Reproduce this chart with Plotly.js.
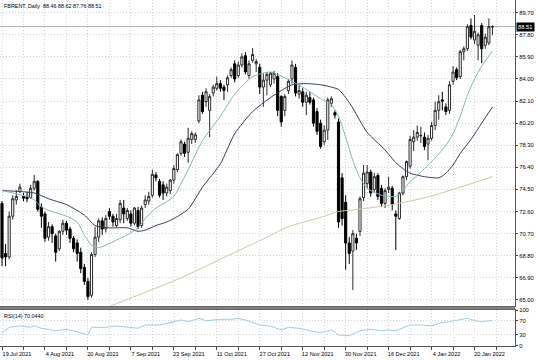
<!DOCTYPE html>
<html><head><meta charset="utf-8">
<script src="https://cdn.plot.ly/plotly-3.0.1.min.js"></script>
<style>html,body{margin:0;padding:0;background:#fff}#chart{width:536px;height:360px}</style>
</head><body><div id="chart"></div>
<script>
const dates = ["2021-07-19","2021-07-20","2021-07-21","2021-07-22","2021-07-23","2021-07-26","2021-07-27","2021-07-28","2021-07-29","2021-07-30",
"2021-08-02","2021-08-03","2021-08-04","2021-08-05","2021-08-06","2021-08-09","2021-08-10","2021-08-11","2021-08-12","2021-08-13","2021-08-16","2021-08-17","2021-08-18","2021-08-19","2021-08-20","2021-08-23","2021-08-24","2021-08-25","2021-08-26","2021-08-27","2021-08-30","2021-08-31",
"2021-09-01","2021-09-02","2021-09-03","2021-09-06","2021-09-07","2021-09-08","2021-09-09","2021-09-10","2021-09-13","2021-09-14","2021-09-15","2021-09-16","2021-09-17","2021-09-20","2021-09-21","2021-09-22","2021-09-23","2021-09-24","2021-09-27","2021-09-28","2021-09-29","2021-09-30",
"2021-10-01","2021-10-04","2021-10-05","2021-10-06","2021-10-07","2021-10-08","2021-10-11","2021-10-12","2021-10-13","2021-10-14","2021-10-15","2021-10-18","2021-10-19","2021-10-20","2021-10-21","2021-10-22","2021-10-25","2021-10-26","2021-10-27","2021-10-28","2021-10-29",
"2021-11-01","2021-11-02","2021-11-03","2021-11-04","2021-11-05","2021-11-08","2021-11-09","2021-11-10","2021-11-11","2021-11-12","2021-11-15","2021-11-16","2021-11-17","2021-11-18","2021-11-19","2021-11-22","2021-11-23","2021-11-24","2021-11-25","2021-11-26","2021-11-29","2021-11-30",
"2021-12-01","2021-12-02","2021-12-03","2021-12-06","2021-12-07","2021-12-08","2021-12-09","2021-12-10","2021-12-13","2021-12-14","2021-12-15","2021-12-16","2021-12-17","2021-12-20","2021-12-21","2021-12-22","2021-12-23","2021-12-27","2021-12-28","2021-12-29","2021-12-30","2021-12-31",
"2022-01-03","2022-01-04","2022-01-05","2022-01-06","2022-01-07","2022-01-10","2022-01-11","2022-01-12","2022-01-13","2022-01-14","2022-01-17","2022-01-18","2022-01-19","2022-01-20","2022-01-21","2022-01-24","2022-01-25","2022-01-26","2022-01-27"];

const open  = [73.3,69.0,68.7,72.2,73.6,74.3,73.9,73.9,73.8,74.6, 75.2,73.0,72.4,70.4,71.3,70.5,69.4,70.9,71.6,71.1, 70.3,69.9,69.1,67.8,66.6,65.4,68.9,70.4,71.8,71.1, 72.6,72.2,71.4,71.9,72.9,72.0,72.4,71.6,72.7,71.4, 73.2,73.5,74.0,75.75,75.2,74.9,74.2,74.4,75.3,76.2, 77.6,78.4,77.7,78.8,78.8,80.4,82.6,82.05,81.3,82.8, 83.2,83.6,83.3,83.5,84.3,85.3,84.3,85.2,86.0,84.3, 85.6,85.3,85.0,83.3,83.9,83.5,84.0,84.2,82.5,81.3, 83.0,84.0,85.0,82.7,82.9,82.0,82.4,82.2,81.2,80.2, 78.6,79.6,81.9,81.1,80.3,75.5,73.4,69.9,69.2,70.3, 70.9,73.8,75.0,76.0,74.5,75.7,74.6,73.3,74.5,74.6, 72.4,72.0,74.2,75.6,76.5,78.6,79.0,79.1,79.0,78.4, 78.9,80.0,81.3,82.2,81.6,81.3,83.8,84.8,84.2,86.35, 86.6,88.6,87.35,86.9,88.6,86.9,87.1,88.46];
const high  = [73.5,69.8,72.6,74.0,74.45,75.0,74.2,74.3,74.9,75.75, 75.3,73.3,72.6,71.7,71.5,70.7,71.0,71.9,71.8,71.3, 70.5,70.2,69.5,68.1,66.9,69.1,71.3,72.0,72.1,72.3, 72.9,72.4,72.4,73.6,73.6,72.9,72.7,73.0,73.0,73.1, 74.0,74.3,76.2,76.0,75.4,75.2,75.0,75.4,76.6,77.6, 78.8,78.6,79.8,79.5,79.4,82.6,82.9,83.2,82.7,83.5, 84.2,83.9,83.5,84.3,85.0,85.6,85.5,86.2,86.3,85.6, 86.66,85.7,85.3,84.5,84.6,84.6,84.7,84.5,82.6,82.7, 84.0,85.6,85.3,83.5,83.2,82.9,82.9,82.4,81.5,80.5, 80.0,82.4,82.5,81.3,80.6,75.9,74.0,70.4,71.0,70.7, 73.9,76.6,76.6,76.2,75.9,75.9,74.9,74.6,75.6,74.8, 72.7,74.3,75.7,77.0,79.1,79.6,80.0,79.9,79.4,79.2, 80.3,82.05,82.6,82.9,81.9,83.8,85.1,85.0,86.5,86.8, 88.7,89.2,89.5,88.0,88.8,87.9,89.2,88.62];
const low   = [67.9,67.9,68.5,71.9,73.2,74.2,73.5,73.4,73.7,74.4, 72.6,71.2,70.0,70.1,69.9,68.3,69.2,70.6,70.6,69.9, 69.1,68.3,67.3,66.3,65.0,65.2,68.7,70.0,70.6,70.8, 71.9,71.3,71.2,71.6,71.6,71.8,71.3,71.4,71.1,71.2, 72.9,73.2,73.8,75.2,73.8,73.6,73.9,74.1,75.0,76.0, 77.4,77.3,76.8,78.4,78.5,80.2,81.0,81.6,79.0,82.5, 83.0,82.9,82.2,82.9,84.1,83.7,84.1,85.0,84.4,84.0, 85.4,84.6,82.7,81.6,82.6,83.3,83.6,80.8,79.9,80.8, 82.7,83.6,82.5,82.3,81.6,80.9,81.8,79.9,79.2,78.0, 78.3,78.75,81.6,80.6,71.2,71.4,67.6,68.1,65.86,69.3, 70.5,73.5,74.6,73.9,74.2,73.6,73.0,72.9,74.2,72.7, 69.3,71.9,74.0,75.3,76.3,77.8,78.7,78.5,77.9,77.0, 78.7,79.6,80.5,81.3,80.9,81.0,83.5,83.9,84.0,85.6, 86.4,87.4,87.0,85.6,85.35,86.6,86.9,87.76];
const close = [68.6,68.7,72.2,73.7,73.9,74.7,73.75,73.7,74.6,75.2, 72.8,72.2,70.3,71.3,70.7,69.1,70.9,71.6,71.0,70.3, 69.4,69.0,67.7,66.6,65.3,68.9,70.4,71.8,71.1,72.0, 72.2,71.7,72.0,73.3,72.4,72.7,71.6,72.9,71.3,72.9, 73.6,73.9,75.8,75.5,74.0,74.2,74.7,75.3,76.3,77.5, 78.6,77.6,78.9,79.3,79.2,82.2,81.2,82.9,82.5,83.3, 83.6,83.2,83.0,84.1,84.8,84.0,85.2,85.9,84.6,85.3, 86.1,85.5,83.3,83.9,84.4,84.5,84.5,81.3,80.3,82.5, 83.8,85.2,82.8,83.0,82.0,82.6,82.0,80.2,79.5,78.2, 79.6,82.2,82.3,80.9,71.7,72.0,69.9,69.0,70.7,69.9, 73.7,75.9,76.0,74.2,75.6,73.9,73.3,74.4,74.7,73.2, 72.2,74.2,75.6,76.9,78.8,79.0,79.4,79.15,78.2,78.9, 80.0,81.3,82.05,82.1,81.2,83.5,84.6,84.1,86.35,86.6, 88.5,87.6,88.1,87.8,86.6,87.6,88.5,88.51];

// moving averages (bar index, value)
const fastMaIdx = [0,3,7,9,11,13,18,21,23,25,27,29,32,35,38,40,43,46,48,52,56,61,65,70,75,79,84,89,92,94,96,98,100,102,106,110,112,114,116,118,121,124,126,128,130,132,134,137];
const fastMaVal = [74.4,74.2,73.9,73.6,73.0,72.7,72.2,71.7,70.6,69.7,69.5,69.7,70.15,70.6,71.2,72.0,72.9,73.45,73.9,76.2,78.7,80.8,82.7,84.2,84.6,84.1,83.3,82.3,81.8,80.8,79.0,77.0,75.5,74.6,74.0,73.9,74.4,75.2,75.7,76.3,77.2,78.3,79.3,80.8,82.6,84.0,85.1,86.4];
const slowMaIdx = [0,9,13,18,23,26,30,35,38,40,43,46,48,52,56,61,65,70,75,78,81,85,89,92,94,96,98,100,102,107,110,112,114,118,122,124,126,128,131,134,137];
const slowMaVal = [74.4,74.2,73.7,73.2,72.3,71.4,71.2,71.2,70.9,71.0,71.4,71.7,72.0,72.8,74.7,76.7,79.3,81.2,82.4,83.0,83.5,83.6,83.5,83.3,83.1,82.4,81.5,80.4,79.4,77.9,76.8,76.3,75.9,75.6,75.5,75.9,76.6,77.6,78.8,80.2,81.6];
const longMaIdx = [28,50,61,72,80,89,94,100,109,119,128,137];
const longMaVal = [64.2,66.9,68.5,70.1,71.3,72.1,72.6,72.8,73.2,73.85,74.7,75.6];
const rsiIdx = [0,2,5,8,9,11,15,18,21,24,25,29,32,35,38,40,44,46,50,52,55,57,61,64,66,68,70,72,75,78,80,83,86,89,92,94,97,100,103,106,108,110,114,117,120,122,125,128,130,132,134,136,137];
const rsiVal = [34.7,51.5,55.2,51.5,56,48.7,42,45.9,39.2,30,51.5,51.5,55.2,51.5,48.7,58,58,62.6,72,67.3,76.6,70,73.8,73.8,76.6,72,64.6,58,55,44,51.5,48.7,42,36.5,44,30,28,42,46,42,44,42,58,58,55,62.6,67.3,72,76.6,70,67.3,70,70.04];

const priceTicks = [65.00,66.90,68.80,70.70,72.60,74.50,76.40,78.30,80.20,82.10,84.00,85.90,87.80,89.70];
const rsiTicks = [0,30,70,100];
const labelDates = ["2021-07-19","2021-08-04","2021-08-20","2021-09-07","2021-09-23","2021-10-11","2021-10-27","2021-11-12","2021-11-30","2021-12-16","2022-01-04","2022-01-20"];
const labelText = ["19 Jul 2021","4 Aug 2021","20 Aug 2021","7 Sep 2021","23 Sep 2021","11 Oct 2021","27 Oct 2021","12 Nov 2021","30 Nov 2021","16 Dec 2021","4 Jan 2022","20 Jan 2022"];
const titleText = "FBRENT.,Daily  88.46 88.62 87.76 88.51";
const rsiLabel = "RSI(14) 70.0440";
const lastPrice = 88.51;

const idx = dates.map((d, i) => i);
const labelIdx = labelDates.map(d => dates.indexOf(d));
const gridVals = [], gridText = [];
for (let v = 0; v <= 138; v += 6) {
  gridVals.push(v);
  const k = labelIdx.indexOf(v);
  gridText.push(k >= 0 ? labelText[k] : "");
}

const FONT = "Liberation Sans, Arial, sans-serif";
const GRID = "#d6d6d6";
const traces = [
  {type:"candlestick", x: idx, open, high, low, close, xaxis:"x", yaxis:"y",
   increasing:{line:{color:"#2a2a2a", width:1}, fillcolor:"#ffffff"},
   decreasing:{line:{color:"#000", width:1}, fillcolor:"#000000"},
   whiskerwidth:0, hoverinfo:"skip", showlegend:false},
  {type:"scatter", mode:"lines", x: longMaIdx, y: longMaVal, xaxis:"x", yaxis:"y",
   line:{color:"#d6c6a6", width:1, shape:"spline", smoothing:0.6}, hoverinfo:"skip", showlegend:false},
  {type:"scatter", mode:"lines", x: slowMaIdx, y: slowMaVal, xaxis:"x", yaxis:"y",
   line:{color:"#3a3a58", width:1, shape:"spline", smoothing:0.6}, hoverinfo:"skip", showlegend:false},
  {type:"scatter", mode:"lines", x: fastMaIdx, y: fastMaVal, xaxis:"x", yaxis:"y",
   line:{color:"#86b8b4", width:1, shape:"spline", smoothing:0.6}, hoverinfo:"skip", showlegend:false},
  {type:"scatter", mode:"lines", x: rsiIdx, y: rsiVal, xaxis:"x", yaxis:"y2",
   line:{color:"#a4cbe0", width:1}, hoverinfo:"skip", showlegend:false}
];

const layout = {
  width:536, height:360,
  margin:{l:0, r:21, t:0, b:0, pad:0},
  paper_bgcolor:"#ffffff", plot_bgcolor:"#ffffff",
  font:{family:FONT, size:6, color:"#000"},
  showlegend:false,
  boxgap:0.15,
  xaxis:{domain:[0, 1], range:[-0.56, 143.3], anchor:"y2",
    tickmode:"array", tickvals:gridVals, ticktext:gridText,
    ticks:"outside", ticklen:3, tickcolor:"#444", tickfont:{size:5.6, family:FONT},
    ticklabelshift:15, ticklabelstandoff:0,
    showgrid:true, gridcolor:GRID, griddash:"1px,2px", gridwidth:1,
    showline:true, linecolor:"#555", linewidth:1, mirror:"all",
    zeroline:false, rangeslider:{visible:false}, fixedrange:true},
  yaxis:{domain:[1-306/360, 1], range:[64.48, 90.79], side:"right", anchor:"x",
    tickmode:"array", tickvals:priceTicks, ticktext:priceTicks.map(v => v.toFixed(2)),
    ticks:"outside", ticklen:2, tickcolor:"#444", tickfont:{size:5.8, family:FONT},
    showgrid:true, gridcolor:GRID, griddash:"1px,2px", gridwidth:1,
    showline:true, linecolor:"#555", linewidth:1, mirror:true, zeroline:false, fixedrange:true},
  yaxis2:{domain:[1-345.7/360, 1-310/360], range:[0, 100], side:"right", anchor:"x",
    tickmode:"array", tickvals:rsiTicks, ticktext:rsiTicks.map(String),
    ticks:"outside", ticklen:2, tickcolor:"#444", tickfont:{size:5.8, family:FONT},
    showgrid:true, gridcolor:GRID, griddash:"1px,2px", gridwidth:1,
    showline:true, linecolor:"#555", linewidth:1, mirror:true, zeroline:false, fixedrange:true},
  shapes:[
    {type:"line", xref:"paper", yref:"y", x0:0, x1:1, y0:lastPrice, y1:lastPrice,
     line:{color:"#b4b4b4", width:1}, layer:"below"},
    {type:"line", xref:"paper", yref:"paper", x0:0, x1:1, y0:1-308/360, y1:1-308/360,
     line:{color:"#808080", width:3}}
  ],
  annotations:[
    {xref:"paper", yref:"paper", x:0.004, y:1-1/360, xanchor:"left", yanchor:"top",
     text:titleText, showarrow:false, font:{size:5.4, family:FONT, color:"#000"}},
    {xref:"paper", yref:"paper", x:0.004, y:1-310.5/360, xanchor:"left", yanchor:"top",
     text:rsiLabel, showarrow:false, font:{size:5.4, family:FONT, color:"#000"}},
    {xref:"paper", yref:"y", x:1 + 1/515, y:lastPrice, xanchor:"left", yanchor:"middle",
     text:lastPrice.toFixed(2), showarrow:false, bgcolor:"#000", borderpad:1,
     font:{size:5.8, family:FONT, color:"#fff"}}
  ]
};
Plotly.newPlot("chart", traces, layout, {staticPlot:true, displayModeBar:false});
</script></body></html>
